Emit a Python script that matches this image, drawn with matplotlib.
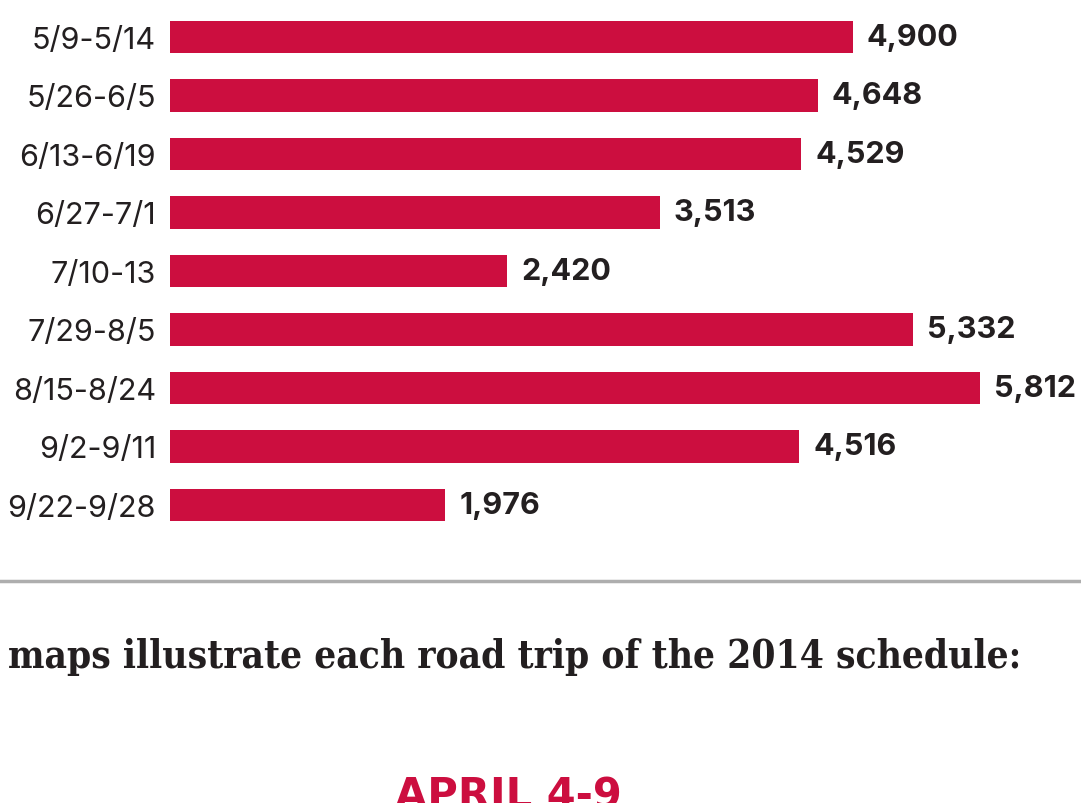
import matplotlib
matplotlib.use("Agg")
import matplotlib.pyplot as plt
from matplotlib.lines import Line2D

categories = ["5/9-5/14", "5/26-6/5", "6/13-6/19", "6/27-7/1", "7/10-13",
              "7/29-8/5", "8/15-8/24", "9/2-9/11", "9/22-9/28"]
values = [4900, 4648, 4529, 3513, 2420, 5332, 5812, 4516, 1976]
value_labels = ["4,900", "4,648", "4,529", "3,513", "2,420", "5,332", "5,812", "4,516", "1,976"]
subtitle = "maps illustrate each road trip of the 2014 schedule:"
section_title = "APRIL 4-9"

RED = "#CC0E3F"
DARK = "#231F20"
W, H = 1081, 804
SANS = ["Inter", "DejaVu Sans"]

fig = plt.figure(figsize=(W / 100, H / 100), dpi=100)
fig.patch.set_facecolor("white")

ax = fig.add_axes([170 / W, 1 - 535.25 / H, 810 / W, 526.5 / H])
ypos = list(range(len(categories)))
ax.barh(ypos, values, height=0.55, color=RED)
ax.set_xlim(0, 5812)
ax.set_ylim(len(categories) - 0.5, -0.5)
ax.set_yticks(ypos)
ax.set_yticklabels(categories, fontsize=22, color=DARK, family=SANS)
ax.tick_params(axis="y", length=0, pad=10)
ax.set_xticks([])
for s in ax.spines.values():
    s.set_visible(False)

for y, v, lab in zip(ypos, values, value_labels):
    ax.annotate(lab, (v, y), xytext=(10, 0), textcoords="offset points",
                va="center", ha="left", fontsize=22, fontweight="bold",
                color=DARK, family=SANS, annotation_clip=False)

# separator line
fig.add_artist(Line2D([0, 1], [1 - 582 / H, 1 - 582 / H], color="#AEAEAE", lw=2.5,
                      transform=fig.transFigure))

t = fig.text(8 / W, 1 - 657 / H, subtitle, ha="left", va="center", fontsize=30,
             fontweight="bold", fontstretch="condensed", color=DARK,
             family=["DejaVu Serif"])
fig.canvas.draw()
bb = t.get_window_extent()
target = 1012
t.set_fontsize(30 * target / bb.width)

fig.text(508 / W, 1 - 776 / H, section_title, ha="center", va="top", fontsize=30,
         fontweight="bold", color=RED, family=["Liberation Sans Narrow", "DejaVu Sans"])

fig.savefig("out.png", dpi=100, facecolor="white")
